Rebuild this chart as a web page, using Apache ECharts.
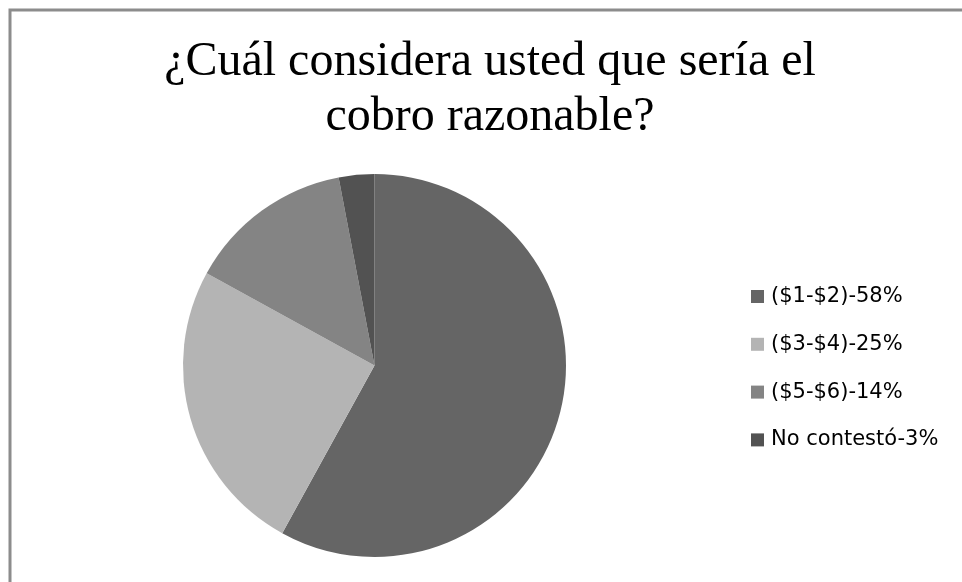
<!DOCTYPE html>
<html>
<head>
<meta charset="utf-8">
<script src="https://cdn.jsdelivr.net/npm/echarts@6/dist/echarts.min.js"></script>
<style>
html,body{margin:0;padding:0;background:#fff;}
#chart{width:962px;height:582px;}
</style>
</head>
<body>
<div id="chart"></div>
<script>
const titleLines = ['¿Cuál considera usted que sería el', 'cobro razonable?'];
const categories = ['($1-$2)-58%', '($3-$4)-25%', '($5-$6)-14%', 'No contestó-3%'];
const values = [58, 25, 14, 3];
const colors = ['#656565', '#b4b4b4', '#848484', '#525252'];

const chart = echarts.init(document.getElementById('chart'), null, {renderer: 'canvas'});
chart.setOption({
  animation: false,
  backgroundColor: '#fff',
  color: colors,
  title: {
    text: titleLines.join('\n'),
    left: 485,
    textAlign: 'center',
    top: 30,
    textStyle: {
      fontFamily: 'Liberation Serif',
      fontSize: 48,
      fontWeight: 'normal',
      color: '#000',
      lineHeight: 55
    }
  },
  graphic: [{
    type: 'rect',
    shape: {x: 10, y: 10, width: 1200, height: 1200},
    style: {fill: 'none', stroke: '#8c8c8c', lineWidth: 3},
    silent: true,
    z: 100
  }],
  legend: {
    orient: 'vertical',
    left: 751,
    top: 286,
    padding: 0,
    icon: 'rect',
    itemWidth: 13,
    itemHeight: 13,
    itemGap: 26.8,
    data: categories,
    textStyle: {
      fontFamily: 'DejaVu Sans',
      fontSize: 21,
      color: '#000',
      lineHeight: 20,
      padding: [0, 0, 0, 2]
    }
  },
  series: [{
    type: 'pie',
    center: [374.5, 365.5],
    radius: [0, 191.5],
    startAngle: 90,
    clockwise: true,
    label: {show: false},
    labelLine: {show: false},
    itemStyle: {borderWidth: 0},
    emphasis: {disabled: true},
    data: categories.map((c, i) => ({name: c, value: values[i]}))
  }]
});
</script>
</body>
</html>
